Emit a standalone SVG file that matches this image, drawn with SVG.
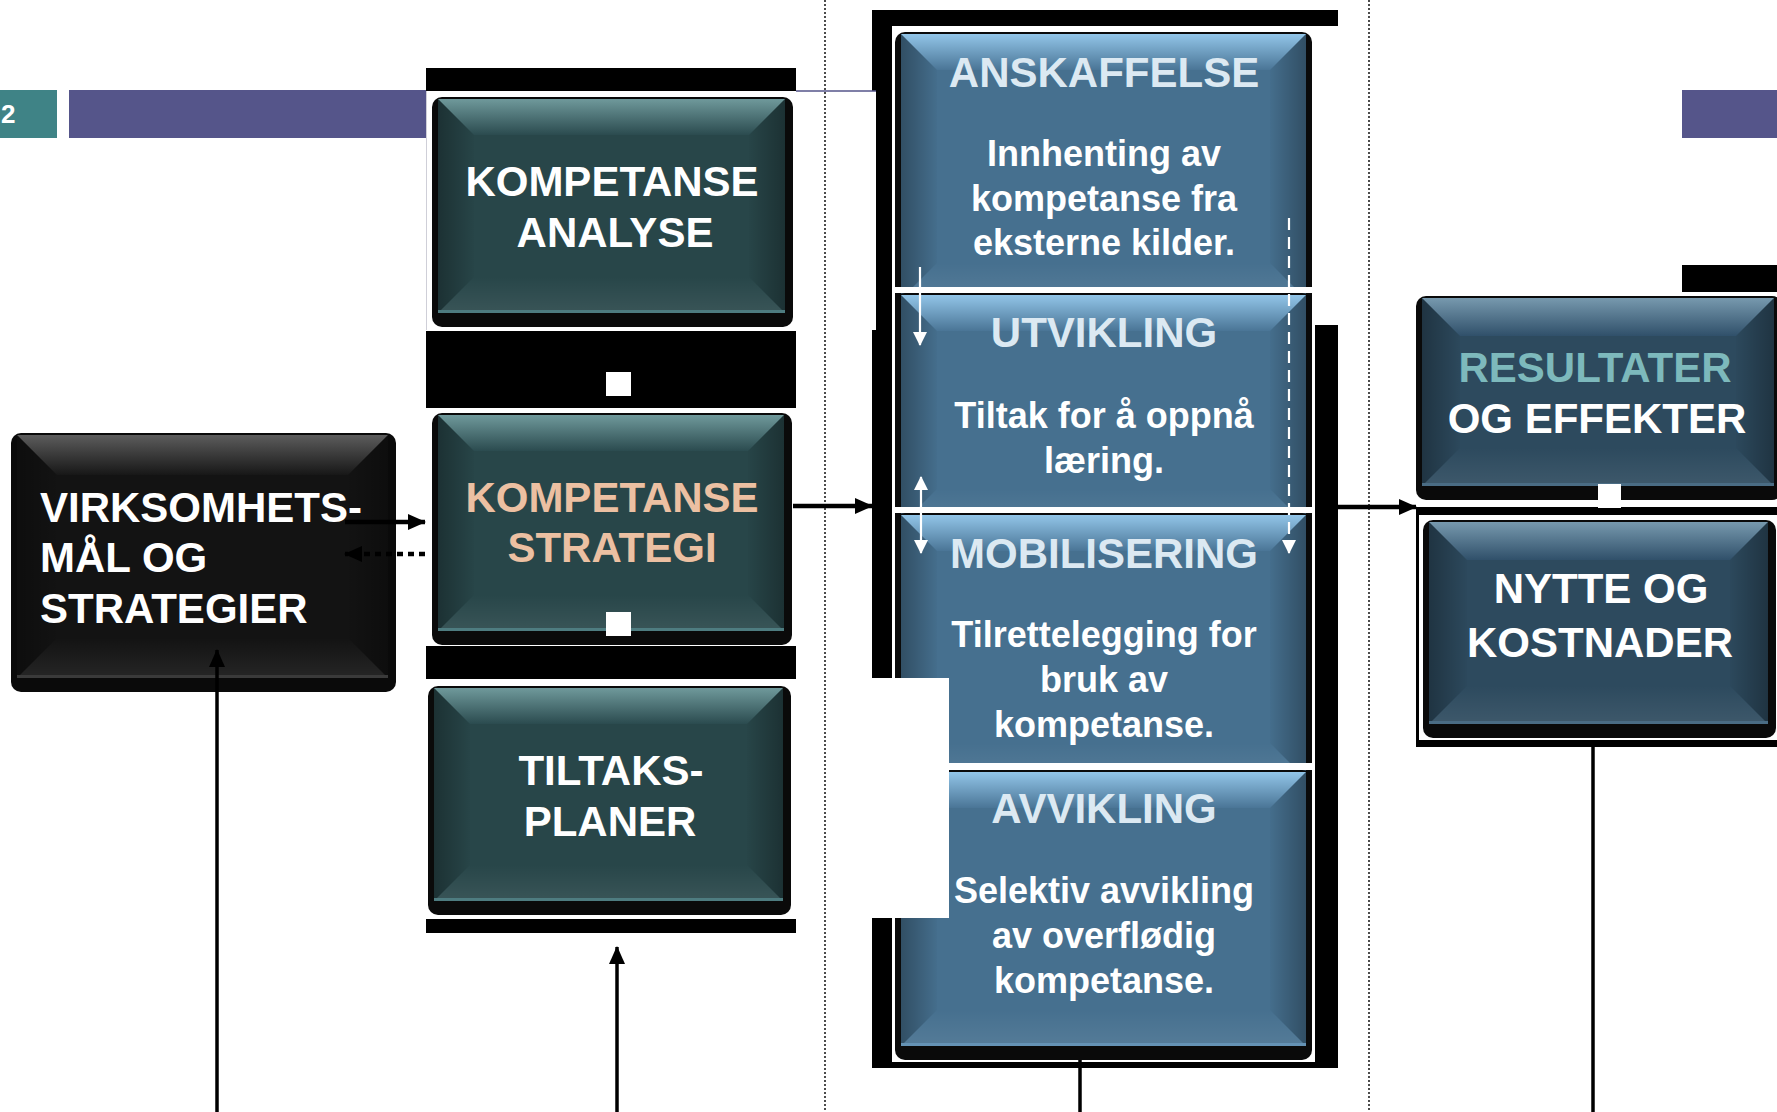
<svg xmlns="http://www.w3.org/2000/svg" width="1777" height="1112" viewBox="0 0 1777 1112">
<style>
.t{font-family:"Liberation Sans",Arial,Helvetica,sans-serif;font-weight:bold;text-anchor:middle}
.h{font-size:42px}
.b{font-size:36px;fill:#ffffff}
.w{fill:#ffffff}
.pale{fill:#DCE9F2}
.peach{fill:#ECC0A2}
.aqua{fill:#7DB9BC}
.sh{fill:#0a0a0a}
.ft{fill:#284649}.fb{fill:#46708F}.fn{fill:#2D4A5E}.fk{fill:#131313}
.tt{fill:url(#gt)}.tb{fill:url(#gb)}.tn{fill:url(#gn)}.tk{fill:url(#gk)}
.sl{fill:url(#sl)}.sr{fill:url(#sr)}.bt{fill:url(#bt)}
.lt{fill:#4E7C80}.lb{fill:#6492B4}.ln{fill:#4A6C84}.lk{fill:#3a3a3a}
.blk{fill:#000000}
.wh{fill:#ffffff}
.con{stroke:#000;stroke-width:4.5;fill:none}
.thin{stroke:#000;stroke-width:3.5;fill:none}
.dot{stroke:#000;stroke-width:1.4;stroke-dasharray:2 2;fill:none}
.wa{stroke:#fff;stroke-width:2.2;fill:none}
</style>
<defs>
<linearGradient id="gt" x1="0" y1="0" x2="0" y2="1"><stop offset="0" stop-color="#6F999B"/><stop offset="1" stop-color="#2B4B4F"/></linearGradient>
<linearGradient id="gb" x1="0" y1="0" x2="0" y2="1"><stop offset="0" stop-color="#92C5E8"/><stop offset="1" stop-color="#4A7596"/></linearGradient>
<linearGradient id="gn" x1="0" y1="0" x2="0" y2="1"><stop offset="0" stop-color="#7799AE"/><stop offset="1" stop-color="#30506A"/></linearGradient>
<linearGradient id="gk" x1="0" y1="0" x2="0" y2="1"><stop offset="0" stop-color="#5C5C5C"/><stop offset="1" stop-color="#171717"/></linearGradient>
<linearGradient id="sl" x1="0" y1="0" x2="1" y2="0"><stop offset="0" stop-color="#000" stop-opacity="0.3"/><stop offset="1" stop-color="#000" stop-opacity="0.02"/></linearGradient>
<linearGradient id="sr" x1="0" y1="0" x2="1" y2="0"><stop offset="0" stop-color="#000" stop-opacity="0.02"/><stop offset="1" stop-color="#000" stop-opacity="0.3"/></linearGradient>
<linearGradient id="bt" x1="0" y1="0" x2="0" y2="1"><stop offset="0" stop-color="#fff" stop-opacity="0"/><stop offset="1" stop-color="#fff" stop-opacity="0.08"/></linearGradient>
<marker id="ah" viewBox="0 0 18 16" refX="17" refY="8" markerWidth="18" markerHeight="16" markerUnits="userSpaceOnUse" orient="auto"><path d="M0,0 L18,8 L0,16 z" fill="#000"/></marker>
<marker id="aw" viewBox="0 0 14 14" refX="13" refY="7" markerWidth="14" markerHeight="14" markerUnits="userSpaceOnUse" orient="auto-start-reverse"><path d="M0,0 L14,7 L0,14 z" fill="#fff"/></marker>
</defs>

<rect x="0" y="0" width="1777" height="1112" fill="#ffffff"/>

<g id="header">
<rect x="0" y="90" width="57" height="48" fill="#3F8386"/>
<text x="1" y="123" class="t w" style="font-size:26px;text-anchor:start">2</text>
<rect x="69" y="90" width="357" height="48" fill="#55558A"/>
<rect x="1682" y="90" width="95" height="48" fill="#55558A"/>
</g>

<g id="frames">
<rect x="426" y="68" width="370" height="23" class="blk"/>
<rect x="426" y="331" width="370" height="77" class="blk"/>
<rect x="426" y="646" width="370" height="33" class="blk"/>
<rect x="426" y="919" width="370" height="14" class="blk"/>
<rect x="872" y="10" width="466" height="1058" class="blk"/>
<rect x="892" y="26" width="423" height="1036" class="wh"/>
<rect x="1312" y="26" width="26" height="299" class="wh"/>
<rect x="426" y="91" width="450" height="239" class="wh"/>
<line x1="426.5" y1="91" x2="426.5" y2="330" stroke="#cfcfd8" stroke-width="1"/>
<line x1="796" y1="91" x2="876" y2="91" stroke="#55558A" stroke-width="1.5"/>
<rect x="1682" y="265" width="95" height="27" class="blk"/>
<rect x="1416" y="507" width="361" height="240" class="blk"/>
<rect x="1419" y="515" width="358" height="225" class="wh"/>
</g>

<g id="guides">
<line x1="825" y1="0" x2="825" y2="1112" class="dot"/>
<line x1="1369" y1="0" x2="1369" y2="1112" class="dot"/>
</g>

<g id="node-virksomhet">
<rect x="11" y="433" width="385" height="259" rx="10" class="sh"/>
<rect x="17" y="435" width="371" height="243" class="fk"/>
<polygon points="17,435 388,435 348,475 57,475" class="tk"/>
<polygon points="17,435 57,475 57,638 17,678" class="sl"/>
<polygon points="388,435 348,475 348,638 388,678" class="sr"/>
<polygon points="17,678 388,678 348,638 57,638" class="bt"/>
<rect x="17" y="675" width="371" height="3" class="lk"/>
<text class="t h w" style="text-anchor:start"><tspan x="40" y="522">VIRKSOMHETS-</tspan><tspan x="40" y="572">MÅL OG</tspan><tspan x="40" y="623">STRATEGIER</tspan></text>
</g>

<g id="node-analyse">
<rect x="432" y="97" width="361" height="230" rx="10" class="sh"/>
<rect x="438" y="99" width="347" height="214" class="ft"/>
<polygon points="438,99 785,99 749,135 474,135" class="tt"/>
<polygon points="438,99 474,135 474,277 438,313" class="sl"/>
<polygon points="785,99 749,135 749,277 785,313" class="sr"/>
<polygon points="438,313 785,313 749,277 474,277" class="bt"/>
<rect x="438" y="310" width="347" height="3" class="lt"/>
<text class="t h w"><tspan x="612" y="196">KOMPETANSE</tspan><tspan x="615" y="247">ANALYSE</tspan></text>
</g>

<g id="node-strategi">
<rect x="432" y="413" width="360" height="232" rx="10" class="sh"/>
<rect x="438" y="415" width="346" height="216" class="ft"/>
<polygon points="438,415 784,415 748,451 474,451" class="tt"/>
<polygon points="438,415 474,451 474,595 438,631" class="sl"/>
<polygon points="784,415 748,451 748,595 784,631" class="sr"/>
<polygon points="438,631 784,631 748,595 474,595" class="bt"/>
<rect x="438" y="628" width="346" height="3" class="lt"/>
<text class="t h peach"><tspan x="612" y="512">KOMPETANSE</tspan><tspan x="612" y="562">STRATEGI</tspan></text>
</g>

<g id="node-tiltak">
<rect x="428" y="686" width="363" height="229" rx="10" class="sh"/>
<rect x="434" y="688" width="349" height="213" class="ft"/>
<polygon points="434,688 783,688 747,724 470,724" class="tt"/>
<polygon points="434,688 470,724 470,865 434,901" class="sl"/>
<polygon points="783,688 747,724 747,865 783,901" class="sr"/>
<polygon points="434,901 783,901 747,865 470,865" class="bt"/>
<rect x="434" y="898" width="349" height="3" class="lt"/>
<text class="t h w"><tspan x="611" y="785">TILTAKS-</tspan><tspan x="610" y="836">PLANER</tspan></text>
</g>

<g id="node-anskaffelse">
<rect x="895" y="32" width="417" height="281" rx="10" class="sh"/>
<rect x="901" y="34" width="405" height="265" class="fb"/>
<polygon points="901,34 1306,34 1270,70 937,70" class="tb"/>
<polygon points="901,34 937,70 937,263 901,299" class="sl"/>
<polygon points="1306,34 1270,70 1270,263 1306,299" class="sr"/>
<polygon points="901,299 1306,299 1270,263 937,263" class="bt"/>
<text class="t h pale" x="1104" y="87">ANSKAFFELSE</text>
<text class="t b"><tspan x="1104" y="166">Innhenting av</tspan><tspan x="1104" y="211">kompetanse fra</tspan><tspan x="1104" y="255">eksterne kilder.</tspan></text>
</g>

<g id="node-utvikling">
<rect x="892" y="287" width="423" height="6" class="wh"/>
<rect x="895" y="293" width="417" height="246" rx="10" class="sh"/>
<rect x="901" y="295" width="405" height="230" class="fb"/>
<polygon points="901,295 1306,295 1270,331 937,331" class="tb"/>
<polygon points="901,295 937,331 937,489 901,525" class="sl"/>
<polygon points="1306,295 1270,331 1270,489 1306,525" class="sr"/>
<polygon points="901,525 1306,525 1270,489 937,489" class="bt"/>
<text class="t h pale" x="1104" y="347">UTVIKLING</text>
<text class="t b"><tspan x="1104" y="428">Tiltak for å oppnå</tspan><tspan x="1104" y="473">læring.</tspan></text>
</g>

<g id="node-mobilisering">
<rect x="892" y="507" width="423" height="6" class="wh"/>
<rect x="895" y="513" width="417" height="280" rx="10" class="sh"/>
<rect x="901" y="515" width="405" height="264" class="fb"/>
<polygon points="901,515 1306,515 1270,551 937,551" class="tb"/>
<polygon points="901,515 937,551 937,743 901,779" class="sl"/>
<polygon points="1306,515 1270,551 1270,743 1306,779" class="sr"/>
<polygon points="901,779 1306,779 1270,743 937,743" class="bt"/>
<text class="t h pale" x="1104" y="568">MOBILISERING</text>
<text class="t b"><tspan x="1104" y="647">Tilrettelegging for</tspan><tspan x="1104" y="692">bruk av</tspan><tspan x="1104" y="737">kompetanse.</tspan></text>
</g>

<g id="node-avvikling">
<rect x="892" y="763" width="423" height="7" class="wh"/>
<rect x="895" y="770" width="417" height="290" rx="10" class="sh"/>
<rect x="901" y="772" width="405" height="274" class="fb"/>
<polygon points="901,772 1306,772 1270,808 937,808" class="tb"/>
<polygon points="901,772 937,808 937,1010 901,1046" class="sl"/>
<polygon points="1306,772 1270,808 1270,1010 1306,1046" class="sr"/>
<polygon points="901,1046 1306,1046 1270,1010 937,1010" class="bt"/>
<rect x="901" y="1043" width="405" height="3" class="lb"/>
<rect x="872" y="678" width="77" height="240" class="wh"/>
<text class="t h pale" x="1104" y="823">AVVIKLING</text>
<text class="t b"><tspan x="1104" y="903">Selektiv avvikling</tspan><tspan x="1104" y="948">av overflødig</tspan><tspan x="1104" y="993">kompetanse.</tspan></text>
</g>

<g id="node-resultater">
<rect x="1416" y="296" width="366" height="204" rx="10" class="sh"/>
<rect x="1422" y="298" width="352" height="188" class="fn"/>
<polygon points="1422,298 1774,298 1736,336 1460,336" class="tn"/>
<polygon points="1422,298 1460,336 1460,448 1422,486" class="sl"/>
<polygon points="1774,298 1736,336 1736,448 1774,486" class="sr"/>
<polygon points="1422,486 1774,486 1736,448 1460,448" class="bt"/>
<rect x="1422" y="483" width="352" height="3" class="ln"/>
<text class="t h aqua" x="1595" y="382">RESULTATER</text>
<text class="t h w" x="1597" y="433">OG EFFEKTER</text>
</g>

<g id="node-nytte">
<rect x="1423" y="520" width="353" height="218" rx="10" class="sh"/>
<rect x="1429" y="522" width="339" height="202" class="fn"/>
<polygon points="1429,522 1768,522 1730,560 1467,560" class="tn"/>
<polygon points="1429,522 1467,560 1467,686 1429,724" class="sl"/>
<polygon points="1768,522 1730,560 1730,686 1768,724" class="sr"/>
<polygon points="1429,724 1768,724 1730,686 1467,686" class="bt"/>
<rect x="1429" y="721" width="339" height="3" class="ln"/>
<text class="t h w"><tspan x="1601" y="603">NYTTE OG</tspan><tspan x="1600" y="657">KOSTNADER</tspan></text>
</g>

<g id="squares">
<rect x="606" y="372" width="25" height="24" class="wh"/>
<rect x="606" y="612" width="25" height="24" class="wh"/>
<rect x="1598" y="484" width="23" height="24" class="wh"/>
</g>

<g id="connectors">
<line x1="345" y1="522" x2="425" y2="522" class="con" marker-end="url(#ah)"/>
<line x1="425" y1="554" x2="345" y2="554" class="con" style="stroke-dasharray:6 5" marker-end="url(#ah)"/>
<line x1="793" y1="506" x2="872" y2="506" class="con" marker-end="url(#ah)"/>
<line x1="1338" y1="507" x2="1416" y2="507" class="con" marker-end="url(#ah)"/>
<line x1="217" y1="1112" x2="217" y2="650" class="thin" marker-end="url(#ah)"/>
<line x1="617" y1="1112" x2="617" y2="947" class="thin" marker-end="url(#ah)"/>
<line x1="1080" y1="1060" x2="1080" y2="1112" class="thin"/>
<line x1="1593" y1="747" x2="1593" y2="1112" class="thin"/>
<line x1="920" y1="267" x2="920" y2="345" class="wa" marker-end="url(#aw)"/>
<line x1="921" y1="477" x2="921" y2="553" class="wa" marker-start="url(#aw)" marker-end="url(#aw)"/>
<line x1="1289" y1="218" x2="1289" y2="553" class="wa" style="stroke-dasharray:12 7" marker-end="url(#aw)"/>
</g>
</svg>
